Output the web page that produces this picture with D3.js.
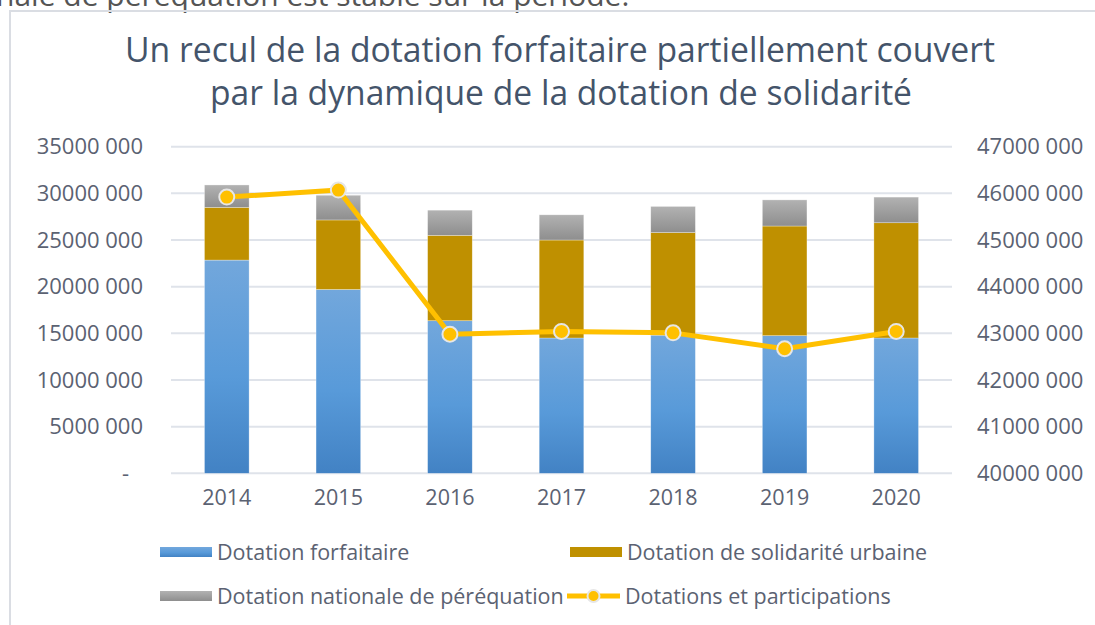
<!DOCTYPE html>
<html>
<head>
<meta charset="utf-8">
<script src="https://cdn.jsdelivr.net/npm/d3@7"></script>
<style>
  body { margin: 0; background: #fff; }
  svg { display: block; font-family: "Open Sans", sans-serif; }
</style>
</head>
<body>
<svg id="chart" width="1095" height="625"></svg>
<script>
// Données
var annees = ["2014", "2015", "2016", "2017", "2018", "2019", "2020"];
var forfaitaire = [22850000, 19700000, 16350000, 14500000, 14800000, 14750000, 14500000];
var solidarite = [5650000, 7450000, 9150000, 10500000, 11000000, 11750000, 12350000];
var perequation = [2400000, 2650000, 2700000, 2700000, 2800000, 2800000, 2750000];
var participations = [45920000, 46070000, 42980000, 43040000, 43010000, 42670000, 43040000];

var ticksGauche = [0, 5000000, 10000000, 15000000, 20000000, 25000000, 30000000, 35000000];
var labelsGauche = ["-", "5000 000", "10000 000", "15000 000", "20000 000", "25000 000", "30000 000", "35000 000"];
var ticksDroite = [40000000, 41000000, 42000000, 43000000, 44000000, 45000000, 46000000, 47000000];
var labelsDroite = ["40000 000", "41000 000", "42000 000", "43000 000", "44000 000", "45000 000", "46000 000", "47000 000"];

var series = [
  { nom: "Dotation forfaitaire", valeurs: forfaitaire, fill: "url(#gradBleu)" },
  { nom: "Dotation de solidarité urbaine", valeurs: solidarite, fill: "#bf9000" },
  { nom: "Dotation nationale de péréquation", valeurs: perequation, fill: "url(#gradGris)" }
];

var svg = d3.select("#chart");
var texte = "#5b6272";

// Dégradés
var defs = svg.append("defs");
var g1 = defs.append("linearGradient").attr("id", "gradBleu").attr("x1", 0).attr("y1", 0).attr("x2", 0).attr("y2", 1);
g1.append("stop").attr("offset", "0%").attr("stop-color", "#72a7dc");
g1.append("stop").attr("offset", "55%").attr("stop-color", "#589ad9");
g1.append("stop").attr("offset", "100%").attr("stop-color", "#4282c4");
var g2 = defs.append("linearGradient").attr("id", "gradGris").attr("x1", 0).attr("y1", 0).attr("x2", 0).attr("y2", 1);
g2.append("stop").attr("offset", "0%").attr("stop-color", "#b2b2b2");
g2.append("stop").attr("offset", "100%").attr("stop-color", "#8e8e8e");

// Texte coupé en haut et cadre
svg.append("text").attr("x", -4).attr("y", 6)
  .attr("font-size", 30).attr("fill", "#555")
  .text("nale de péréquation est stable sur la période.");
svg.append("path").attr("d", "M10,625 V11 H1095")
  .attr("fill", "none").attr("stroke", "#dadde3").attr("stroke-width", 2);

// Titre
svg.append("text").attr("x", 560).attr("y", 62).attr("text-anchor", "middle")
  .attr("font-size", 34).attr("fill", "#44546a")
  .attr("textLength", 870).attr("lengthAdjust", "spacingAndGlyphs")
  .text("Un recul de la dotation forfaitaire partiellement couvert");
svg.append("text").attr("x", 561).attr("y", 105).attr("text-anchor", "middle")
  .attr("font-size", 34).attr("fill", "#44546a")
  .attr("textLength", 702).attr("lengthAdjust", "spacingAndGlyphs")
  .text("par la dynamique de la dotation de solidarité");

// Échelles
var x = d3.scaleBand().domain(annees).range([171, 952]).paddingInner(0.6).paddingOuter(0.3);
var y = d3.scaleLinear().domain([0, 35000000]).range([473.3, 146.7]);
var y2 = d3.scaleLinear().domain([40000000, 47000000]).range([473.3, 146.7]);

// Grille
svg.append("g").selectAll("line").data(ticksGauche).enter().append("line")
  .attr("x1", 171).attr("x2", 952)
  .attr("y1", function(d) { return y(d); }).attr("y2", function(d) { return y(d); })
  .attr("stroke", "#dfe3ea").attr("stroke-width", 2);

// Axes
var axeG = svg.append("g").attr("transform", "translate(171,0)")
  .call(d3.axisLeft(y).tickValues(ticksGauche).tickSize(0).tickPadding(28)
    .tickFormat(function(d, i) { return labelsGauche[i]; }));
axeG.select(".domain").remove();
axeG.selectAll("text").attr("font-size", 22).attr("fill", texte).attr("font-family", "Open Sans");
axeG.selectAll("text").filter(function(d) { return d === 0; }).attr("dx", -14);

var axeD = svg.append("g").attr("transform", "translate(952,0)")
  .call(d3.axisRight(y2).tickValues(ticksDroite).tickSize(0).tickPadding(25)
    .tickFormat(function(d, i) { return labelsDroite[i]; }));
axeD.select(".domain").remove();
axeD.selectAll("text").attr("font-size", 22).attr("fill", texte).attr("font-family", "Open Sans");

var axeX = svg.append("g").attr("transform", "translate(0,473.3)")
  .call(d3.axisBottom(x).tickSize(0).tickPadding(16));
axeX.select(".domain").remove();
axeX.selectAll("text").attr("font-size", 21.5).attr("fill", texte).attr("font-family", "Open Sans");

// Barres empilées
var empile = annees.map(function(a, i) {
  var base = 0;
  return series.map(function(s) {
    var seg = { annee: a, y0: base, y1: base + s.valeurs[i], fill: s.fill };
    base += s.valeurs[i];
    return seg;
  });
});
svg.append("g").selectAll("g").data(empile).enter().append("g")
  .selectAll("rect").data(function(d) { return d; }).enter().append("rect")
  .attr("x", function(d) { return x(d.annee); })
  .attr("width", x.bandwidth())
  .attr("y", function(d) { return y(d.y1); })
  .attr("height", function(d) { return y(d.y0) - y(d.y1); })
  .attr("fill", function(d) { return d.fill; })
  .attr("stroke", "#ffffff").attr("stroke-opacity", 0.5).attr("stroke-width", 0.6);

// Ligne des dotations et participations
var ligne = d3.line()
  .x(function(d, i) { return x(annees[i]) + x.bandwidth() / 2; })
  .y(function(d) { return y2(d); });
svg.append("path").datum(participations)
  .attr("d", ligne).attr("fill", "none")
  .attr("stroke", "#ffc000").attr("stroke-width", 5).attr("stroke-linejoin", "round");
svg.append("g").selectAll("circle").data(participations).enter().append("circle")
  .attr("cx", function(d, i) { return x(annees[i]) + x.bandwidth() / 2; })
  .attr("cy", function(d) { return y2(d); })
  .attr("r", 7.5)
  .attr("fill", "#ffc000").attr("stroke", "#e6e6e6").attr("stroke-width", 2);

// Légende
var legende = [
  { nom: series[0].nom, fill: series[0].fill, x: 160, y: 552, type: "rect" },
  { nom: series[1].nom, fill: series[1].fill, x: 570, y: 552, type: "rect" },
  { nom: series[2].nom, fill: series[2].fill, x: 160, y: 596, type: "rect" },
  { nom: "Dotations et participations", fill: "#ffc000", x: 567, y: 596, type: "line" }
];
var leg = svg.append("g").selectAll("g").data(legende).enter().append("g")
  .attr("transform", function(d) { return "translate(" + d.x + "," + d.y + ")"; });
leg.filter(function(d) { return d.type === "rect"; }).append("rect")
  .attr("x", 0).attr("y", -5).attr("width", 52).attr("height", 10)
  .attr("fill", function(d) { return d.fill; });
var legL = leg.filter(function(d) { return d.type === "line"; });
legL.append("line").attr("x1", 0).attr("x2", 53).attr("y1", 0).attr("y2", 0)
  .attr("stroke", "#ffc000").attr("stroke-width", 5);
legL.append("circle").attr("cx", 26.5).attr("cy", 0).attr("r", 6)
  .attr("fill", "#ffc000").attr("stroke", "#e6e6e6").attr("stroke-width", 2);
leg.append("text")
  .attr("x", function(d) { return d.type === "line" ? 58 : 57; })
  .attr("y", 0).attr("dy", "0.35em")
  .attr("font-size", 21.5).attr("fill", texte)
  .text(function(d) { return d.nom; });
</script>
</body>
</html>
